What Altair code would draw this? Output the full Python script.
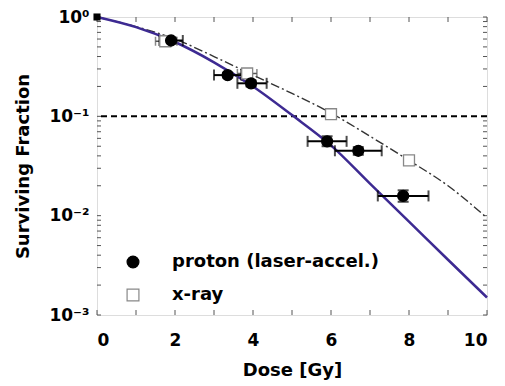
import altair as alt
import pandas as pd

# proton (laser-accelerated) data
p_dose = [1.9, 3.35, 3.95, 5.9, 6.7, 7.85]
p_sf = [0.58, 0.26, 0.215, 0.056, 0.045, 0.0158]
p_dlo = [1.6, 3.0, 3.6, 5.4, 6.1, 7.2]
p_dhi = [2.2, 3.7, 4.35, 6.4, 7.3, 8.5]
p_slo = [0.54, 0.245, 0.2, 0.05, 0.041, 0.0138]
p_shi = [0.62, 0.275, 0.23, 0.063, 0.049, 0.018]

# x-ray data
x_dose = [1.75, 3.85, 6.0, 8.0]
x_sf = [0.57, 0.27, 0.105, 0.036]
x_dlo = [1.5, 3.6, 6.0, 8.0]
x_dhi = [2.05, 4.1, 6.0, 8.0]

# origin point
o_dose = [0]
o_sf = [1.0]

# fitted curves
fit_dose = [0, 1, 2, 3, 4, 5, 6, 7, 8, 9, 10]
fit_proton = [1.0, 0.79, 0.56, 0.35, 0.2, 0.103, 0.051, 0.021, 0.0087, 0.0036, 0.0015]
fit_xray = [1.0, 0.8, 0.6, 0.4, 0.26, 0.17, 0.108, 0.063, 0.036, 0.02, 0.0095]

ref_level = [0.1]

x_ticks = [0, 1, 2, 3, 4, 5, 6, 7, 8, 9, 10]
y_major = [1, 0.1, 0.01, 0.001]
y_minor = [m * 10 ** e for e in (-3, -2, -1) for m in range(2, 10)]

W, H = 390, 298
FONT = "DejaVu Sans"
WT = "bold"

xs = alt.Scale(domain=[0, 10], nice=False)
ys = alt.Scale(type="log", domain=[0.001, 1], nice=False)

xax = alt.Axis(values=[0, 2, 4, 6, 8, 10], grid=False, domain=False, ticks=False,
               labelFontSize=17, labelFont=FONT, labelFontWeight=WT, labelColor="black",
               labelPadding=17, title="Dose [Gy]", titleFont=FONT, titleFontSize=18,
               titleFontWeight=WT, titleColor="black", titlePadding=13)
yax = alt.Axis(values=y_major, grid=False, domain=False, ticks=False,
               labelExpr="datum.value >= 1 ? '10⁰' : datum.value >= 0.1 ? '10⁻¹' : datum.value >= 0.01 ? '10⁻²' : '10⁻³'",
               labelFontSize=17, labelFont=FONT, labelFontWeight=WT, labelColor="black",
               labelPadding=8, title="Surviving Fraction", titleFont=FONT, titleFontSize=18,
               titleFontWeight=WT, titleColor="black", titlePadding=16)

pdf = pd.DataFrame({"dose": p_dose, "sf": p_sf, "dlo": p_dlo, "dhi": p_dhi, "slo": p_slo, "shi": p_shi})
xdf = pd.DataFrame({"dose": x_dose, "sf": x_sf, "dlo": x_dlo, "dhi": x_dhi})
fit = pd.DataFrame({"dose": fit_dose, "p": fit_proton, "x": fit_xray})

base_x = alt.X("dose:Q", scale=xs, axis=xax)
base_y = alt.Y("sf:Q", scale=ys, axis=yax)

ref = alt.Chart(pd.DataFrame({"v": ref_level})).mark_rule(
    color="black", strokeWidth=2, strokeDash=[6, 4]).encode(
    y=alt.Y("v:Q", scale=ys, axis=yax))

xfit = alt.Chart(fit).mark_line(color="#333333", strokeWidth=1.4, strokeDash=[9, 3, 2, 3],
                                interpolate="monotone").encode(
    x=base_x, y=alt.Y("x:Q", scale=ys, axis=yax))
pfit = alt.Chart(fit).mark_line(color="#3d2a92", strokeWidth=2.5, interpolate="monotone").encode(
    x=base_x, y=alt.Y("p:Q", scale=ys, axis=yax))

# x-ray error bars
x_err = alt.Chart(xdf).mark_rule(color="#555555", strokeWidth=1.5).encode(
    x=alt.X("dlo:Q", scale=xs, axis=xax), x2="dhi:Q", y=base_y)
x_cap_lo = alt.Chart(xdf).mark_tick(color="#555555", thickness=1.5, size=9, orient="vertical").encode(
    x=alt.X("dlo:Q", scale=xs, axis=xax), y=base_y)
x_cap_hi = alt.Chart(xdf).mark_tick(color="#555555", thickness=1.5, size=9, orient="vertical").encode(
    x=alt.X("dhi:Q", scale=xs, axis=xax), y=base_y)

# proton error bars
p_xerr = alt.Chart(pdf).mark_rule(color="black", strokeWidth=2).encode(
    x=alt.X("dlo:Q", scale=xs, axis=xax), x2="dhi:Q", y=base_y)
p_cap_lo = alt.Chart(pdf).mark_tick(color="black", thickness=2, size=11, orient="vertical").encode(
    x=alt.X("dlo:Q", scale=xs, axis=xax), y=base_y)
p_cap_hi = alt.Chart(pdf).mark_tick(color="black", thickness=2, size=11, orient="vertical").encode(
    x=alt.X("dhi:Q", scale=xs, axis=xax), y=base_y)
p_yerr = alt.Chart(pdf).mark_rule(color="black", strokeWidth=2).encode(
    x=base_x, y=alt.Y("slo:Q", scale=ys, axis=yax), y2="shi:Q")
p_ycap_lo = alt.Chart(pdf).mark_tick(color="black", thickness=2, size=11, orient="horizontal").encode(
    x=base_x, y=alt.Y("slo:Q", scale=ys, axis=yax))
p_ycap_hi = alt.Chart(pdf).mark_tick(color="black", thickness=2, size=11, orient="horizontal").encode(
    x=base_x, y=alt.Y("shi:Q", scale=ys, axis=yax))

# points with legend
series = ["proton (laser-accel.)", "x-ray"]
pts = pd.concat([
    pd.DataFrame({"dose": x_dose, "sf": x_sf, "series": "x-ray"}),
    pd.DataFrame({"dose": p_dose, "sf": p_sf, "series": "proton (laser-accel.)"}),
])
legend = alt.Legend(title=None, orient="none", legendX=27, legendY=236, labelFont=FONT,
                    labelFontSize=18, labelFontWeight=WT, labelColor="black", labelLimit=0,
                    symbolSize=140, rowPadding=15, labelOffset=30, symbolStrokeWidth=1.2)
points = alt.Chart(pts).mark_point(filled=False, size=120, strokeWidth=1.3, opacity=1).encode(
    x=base_x, y=base_y,
    shape=alt.Shape("series:N", scale=alt.Scale(domain=series, range=["circle", "square"]), legend=legend),
    fill=alt.Fill("series:N", scale=alt.Scale(domain=series, range=["black", "white"]), legend=legend),
    stroke=alt.Stroke("series:N", scale=alt.Scale(domain=series, range=["black", "#888888"]), legend=legend),
)

origin = alt.Chart(pd.DataFrame({"dose": o_dose, "sf": o_sf})).mark_point(
    shape="square", filled=True, color="black", size=50, opacity=1).encode(x=base_x, y=base_y)

# inward ticks
xt = pd.DataFrame({"t": x_ticks})
xt_bot = alt.Chart(xt).mark_rule(color="#555555", strokeWidth=1).encode(
    x=alt.X("t:Q", scale=xs, axis=xax), y=alt.value(H), y2=alt.value(H - 5))
xt_top = alt.Chart(xt).mark_rule(color="#555555", strokeWidth=1).encode(
    x=alt.X("t:Q", scale=xs, axis=xax), y=alt.value(0), y2=alt.value(5))
yt = pd.DataFrame({"t": y_major + y_minor})
yt_left = alt.Chart(yt).mark_rule(color="#555555", strokeWidth=1).encode(
    y=alt.Y("t:Q", scale=ys, axis=yax), x=alt.value(0), x2=alt.value(4))
yt_right = alt.Chart(yt).mark_rule(color="#555555", strokeWidth=1).encode(
    y=alt.Y("t:Q", scale=ys, axis=yax), x=alt.value(W), x2=alt.value(W - 4))

chart = alt.layer(
    xt_bot, xt_top, yt_left, yt_right,
    ref, xfit, pfit,
    x_err, x_cap_lo, x_cap_hi,
    p_xerr, p_cap_lo, p_cap_hi, p_yerr, p_ycap_lo, p_ycap_hi,
    points, origin,
).properties(
    width=W, height=H,
    autosize=alt.AutoSizeParams(type="none"),
    padding={"left": 89, "top": 9, "right": 10, "bottom": 70},
).configure_view(stroke="#555555", strokeWidth=1.2).configure(background="white")

chart.save("out.html", embed_options={"renderer": "svg", "actions": False})
